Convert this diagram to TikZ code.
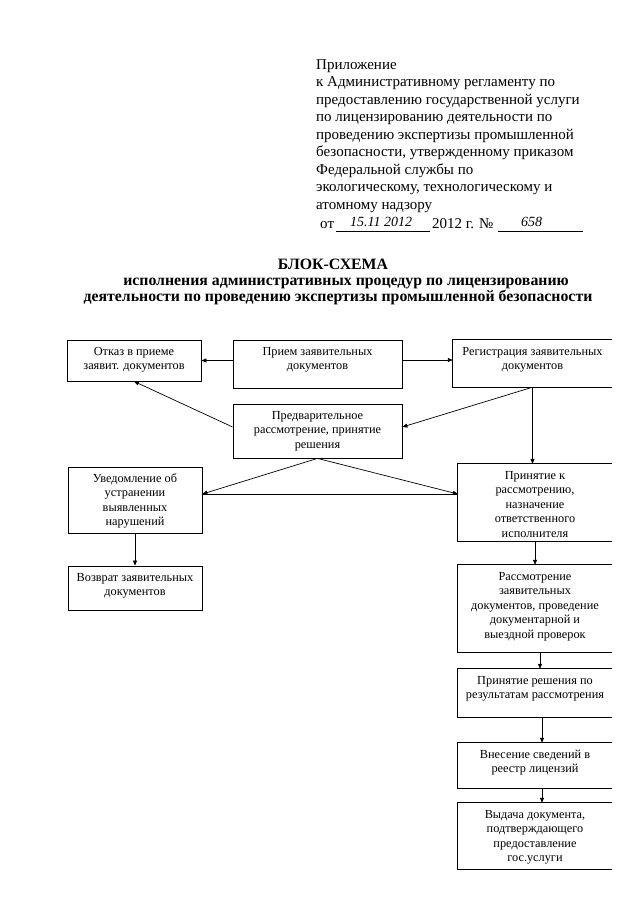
\documentclass[tikz,border=0pt]{standalone}
\usepackage{fontspec}
\setmainfont{Liberation Serif}
\usetikzlibrary{arrows.meta}
\newcommand{\bxtext}[3]{\parbox[c][#2pt][t]{#1pt}{\fontsize{12.3}{14.5}\selectfont\centering\rule{0pt}{15pt}#3}}
\tikzset{
  boxline/.style={line width=0.8pt},
  box/.style={draw, boxline, inner sep=0pt},
  obox/.style={inner sep=0pt},
  arr/.style={line width=0.7pt, -{Triangle[length=5pt,width=4pt]}},
  conn/.style={line width=0.7pt},
  hdr/.style={inner sep=0pt, anchor=base west, font=\fontsize{15}{17.5}\selectfont},
  ttl/.style={inner sep=0pt, anchor=base, font=\fontsize{15.8}{18}\selectfont\bfseries},
  hand/.style={inner sep=0pt, anchor=base west, font=\fontsize{14}{16}\selectfont\itshape},
  uline/.style={line width=0.6pt}
}
\begin{document}
\begin{tikzpicture}[x=1pt,y=-1pt]
\useasboundingbox (0,0) rectangle (640,905);

% header
\node[hdr] (header) at (316,69) {\parbox[t]{320pt}{\fontsize{15}{17.5}\selectfont\raggedright
Приложение\\
к Административному регламенту по\\
предоставлению государственной услуги\\
по лицензированию деятельности по\\
проведению экспертизы промышленной\\
безопасности, утвержденному приказом\\
Федеральной службы по\\
экологическому, технологическому и\\
атомному надзору}};
\node[hdr] (ot) at (320,228) {от};
\coordinate (u1a) at (336,231);
\coordinate (u1b) at (430,231);
\draw[uline] (u1a) -- (u1b);
\node[hand] (date) at (350,226) {15.11 2012};
\node[hdr] (god) at (432,228) {2012 г. №};
\coordinate (u2a) at (498,231);
\coordinate (u2b) at (583,231);
\draw[uline] (u2a) -- (u2b);
\node[hand] (num) at (521,226) {658};

% title
\node[ttl] (t1) at (333,269) {БЛОК-СХЕМА};
\node[ttl] (t2) at (346,285) {исполнения административных процедур по лицензированию};
\node[ttl] (t3) at (338,301) {деятельности по проведению экспертизы промышленной безопасности};

% boxes
\node[box] (otkaz) at (134,360.5) {\bxtext{134}{41}{Отказ в приеме\\заявит. документов}};
\node[box] (priem) at (317.5,364) {\bxtext{169}{48}{Прием заявительных\\документов}};
\node[obox] (reg) at (532.5,363.5) {\bxtext{159}{47}{Регистрация заявительных\\документов}};
\node[box] (pred) at (317.5,431) {\bxtext{169}{54}{Предварительное\\рассмотрение, принятие\\решения}};
\node[box] (uved) at (135,500) {\bxtext{134}{66}{Уведомление об\\устранении\\выявленных\\нарушений}};
\node[box] (vozvrat) at (135,588) {\bxtext{134}{44}{Возврат заявительных\\документов}};
\node[obox] (prin) at (535,502.5) {\bxtext{154}{77}{Принятие к\\рассмотрению,\\назначение\\ответственного\\исполнителя}};
\node[obox] (rassm) at (535,608.5) {\bxtext{154}{87}{Рассмотрение\\заявительных\\документов, проведение\\документарной и\\выездной проверок}};
\node[obox] (resh) at (535,693) {\bxtext{154}{48}{Принятие решения по\\результатам рассмотрения}};
\node[obox] (vnes) at (535,765.5) {\bxtext{154}{45}{Внесение сведений в\\реестр лицензий}};
\node[obox] (vyd) at (535,836) {\bxtext{154}{66}{Выдача документа,\\подтверждающего\\предоставление\\гос.услуги}};
\foreach \n in {reg,prin,rassm,resh,vnes,vyd}
  \draw[boxline] (\n.north east) -- (\n.north west) -- (\n.south west) -- (\n.south east);

% connectors
\draw[arr] (priem.west |- otkaz.east) -- (otkaz.east);
\draw[arr] ([yshift=4pt]priem.east) -- ([yshift=4pt]priem.east -| reg.west);
\draw[arr] (reg.south) -- ([yshift=4pt]pred.east);
\draw[arr] (reg.south) -- (reg.south |- prin.north);
\draw[arr] ([yshift=4pt]pred.west) -- (otkaz.south);
\coordinate (ua) at ([yshift=6pt]uved.east);
\coordinate (pa) at (ua -| prin.west);
\draw[arr] (pred.south) -- (ua);
\draw[arr] (pred.south) -- (pa);
\draw[conn] (ua) -- (pa);
\draw[arr] (uved.south) -- (vozvrat.north);
\draw[arr] (prin.south) -- (rassm.north);
\draw[arr] ([xshift=5pt]rassm.south) -- ([xshift=5pt]resh.north);
\draw[arr] ([xshift=7pt]resh.south) -- ([xshift=7pt]vnes.north);
\draw[arr] ([xshift=7pt]vnes.south) -- ([xshift=7pt]vyd.north);
\end{tikzpicture}
\end{document}
